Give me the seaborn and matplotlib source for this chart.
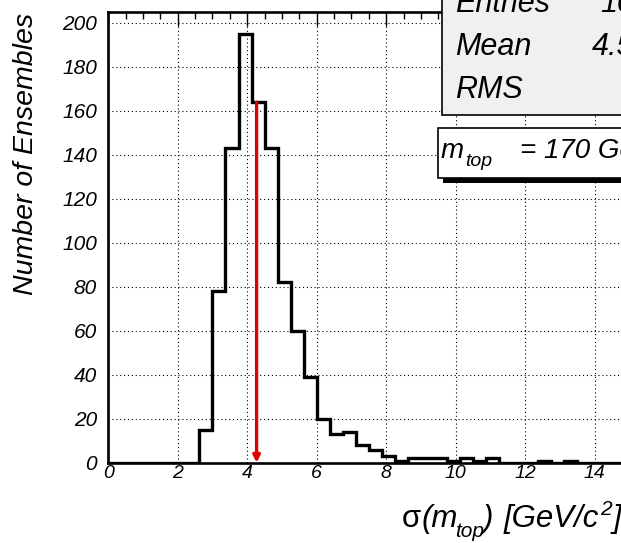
import numpy as np
import pandas as pd
import seaborn as sns
import matplotlib
matplotlib.use("Agg")
import matplotlib.pyplot as plt
from matplotlib.patches import Rectangle
from matplotlib.ticker import MultipleLocator

# histogram of sigma(m_top), bins of 0.375 GeV/c^2 starting at 0
bin_width = 0.375
counts = [0, 0, 0, 0, 0, 0, 0, 15, 78, 143,
          195, 164, 143, 82, 60, 39, 20, 13, 14, 8,
          6, 3, 1, 2, 2, 2, 1, 2, 1, 2,
          0, 0, 0, 1, 0, 1, 0, 0, 0, 0]
arrow_x = 4.27
arrow_top = 164
stats_labels = ["Entries", "Mean", "RMS"]
stats_values = ["1000", "4.536", ""]

W, H = 621, 543


def fx(px):
    return px / W


def fy(py):
    return 1 - py / H


def put_pieces(fig, y0, pieces):
    # pieces: (x or None to chain, text, size, dy, style)
    r = fig.canvas.get_renderer()
    x = 0
    for xs, s, size, dy, style in pieces:
        if xs is not None:
            x = xs
        t = fig.text(fx(x), fy(y0 + dy), s, fontsize=size, fontstyle=style,
                     va="baseline", ha="left", zorder=6)
        x = t.get_window_extent(r).x1 + 1


def main():
    sns.set_style("white")
    plt.rcParams["font.family"] = ["Liberation Sans", "DejaVu Sans"]
    plt.rcParams["font.style"] = "italic"
    plt.rcParams["text.color"] = "black"
    plt.rcParams["xtick.color"] = "black"
    plt.rcParams["ytick.color"] = "black"

    n = len(counts)
    df = pd.DataFrame({"sigma": (np.arange(n) + 0.5) * bin_width, "n": counts})

    fig = plt.figure(figsize=(W / 100, H / 100), dpi=100)
    fig.patch.set_facecolor("white")
    # axes run past the right edge of the picture (cropped like the original)
    x_max = 20
    ax = fig.add_axes([fx(108.2), fy(462.7), x_max * 34.75 / W, (462.7 - 12) / H])

    sns.histplot(data=df, x="sigma", weights="n", binwidth=bin_width,
                 binrange=(0, n * bin_width), element="step", fill=False,
                 color="black", linewidth=2.4, solid_joinstyle="miter", ax=ax, zorder=3)

    ax.annotate("", xy=(arrow_x, 0), xytext=(arrow_x, arrow_top),
                arrowprops=dict(arrowstyle="-|>", color="#e00000", lw=2.4,
                                mutation_scale=10, shrinkA=0, shrinkB=0),
                zorder=4)

    ax.set_xlim(0, x_max)
    ax.set_ylim(0, 205)
    ax.set_xlabel("")
    ax.set_ylabel("")

    ax.xaxis.set_major_locator(MultipleLocator(2))
    ax.xaxis.set_minor_locator(MultipleLocator(0.5))
    ax.yaxis.set_major_locator(MultipleLocator(20))
    ax.yaxis.set_minor_locator(MultipleLocator(5))

    ax.grid(which="major", color="black", linestyle=(0, (1, 2.5)), linewidth=0.8)
    ax.set_axisbelow(True)

    for s in ax.spines.values():
        s.set_linewidth(1.9)
        s.set_color("black")

    ax.tick_params(which="both", direction="in", top=True, right=True, width=1.0,
                   color="black", labelcolor="black")
    ax.tick_params(axis="x", which="major", length=10, pad=2, labelsize=14)
    ax.tick_params(axis="x", which="minor", length=5)
    ax.tick_params(axis="y", which="major", length=13, pad=8, labelsize=15)
    ax.tick_params(axis="y", which="minor", length=6.5)

    # stats box (top right, cropped)
    fig.add_artist(Rectangle((fx(441.7), fy(115)), 0.6, 0.4, transform=fig.transFigure,
                             facecolor="#f0f0f0", edgecolor="black", linewidth=1.2, zorder=5))
    for i, (lab, val) in enumerate(zip(stats_labels, stats_values)):
        yb = 12 + i * 43
        fig.text(fx(455), fy(yb), lab, fontsize=22, va="baseline", ha="left", zorder=6)
        fig.text(fx(668), fy(yb), val, fontsize=22, va="baseline", ha="right", zorder=6)

    # m_top box with shadow
    fig.add_artist(Rectangle((fx(443.3), fy(183.3)), 0.5, 50 / H, transform=fig.transFigure,
                             facecolor="black", edgecolor="black", linewidth=0, zorder=5))
    fig.add_artist(Rectangle((fx(438.3), fy(178.3)), 0.5, 50 / H, transform=fig.transFigure,
                             facecolor="white", edgecolor="black", linewidth=1.2, zorder=5))
    put_pieces(fig, 158, [
        (441, "m", 20, 0, "italic"),
        (465, "top", 14, 8, "italic"),
        (520, "= 170 GeV/c", 20, 0, "italic"),
        (None, "2", 14, -11, "italic"),
    ])

    # axis titles
    fig.text(fx(26), fy(13), "Number of Ensembles", fontsize=20.5, rotation=90,
             ha="center", va="top")
    put_pieces(fig, 527, [
        (401.7, "\u03c3", 22.5, 0, "normal"),
        (None, "(m", 22.5, 0, "italic"),
        (455, "top", 15, 10, "italic"),
        (482, ")", 22.5, 0, "italic"),
        (504, "[GeV/c", 22.5, 0, "italic"),
        (None, "2", 15, -12, "italic"),
        (None, "]", 22.5, 0, "italic"),
    ])

    fig.savefig("out.png", dpi=100)


if __name__ == "__main__":
    main()
